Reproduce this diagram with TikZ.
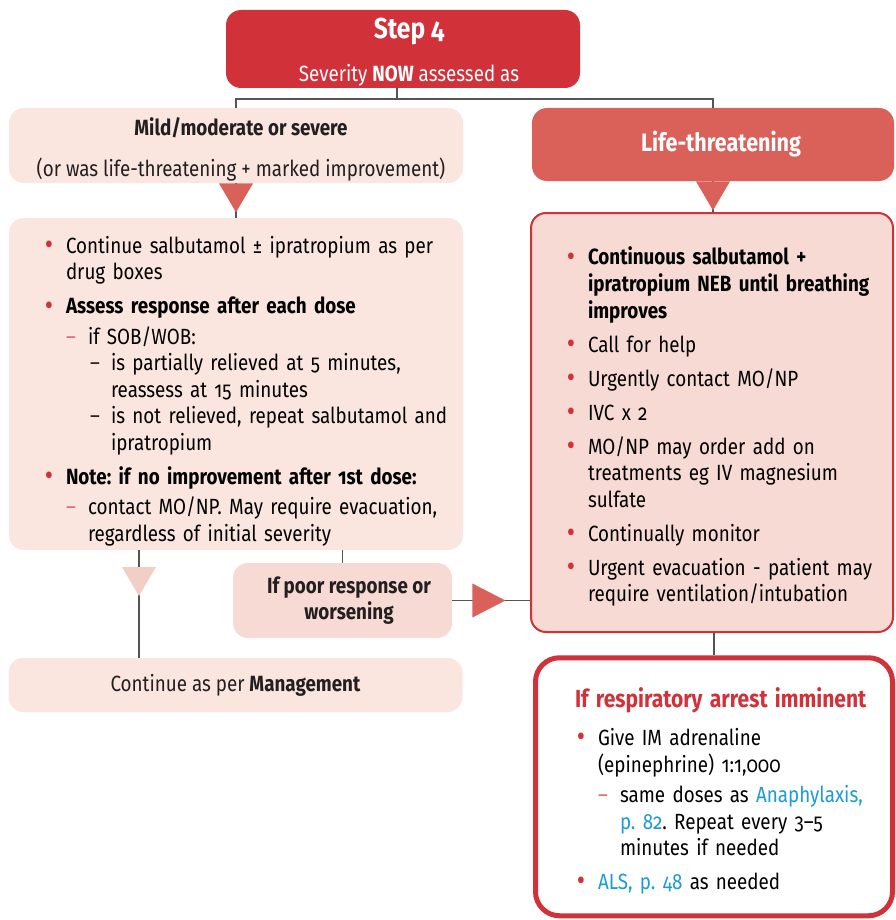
\documentclass[tikz,border=0pt]{standalone}
\usepackage{fontspec}
\setmainfont{Fira Sans}[Numbers=OldStyle, FakeStretch=0.855]
\usepackage{enumitem}

\definecolor{stepred}{HTML}{D1323A}
\definecolor{lifered}{HTML}{D9615A}
\definecolor{palepink}{HTML}{FAE5DF}
\definecolor{rosepink}{HTML}{F6DAD3}
\definecolor{tripink}{HTML}{F2CFC5}
\definecolor{ink}{HTML}{231F20}
\definecolor{dashpink}{HTML}{E56B72}
\definecolor{linkblue}{HTML}{1B9BD7}
\definecolor{linegrey}{HTML}{555555}

% lower a line of text without changing the size of its box
\newcommand{\nudge}[2]{\raisebox{-#1}[\height][\depth]{#2}}
\newcommand{\redbullet}{\textcolor{stepred}{\raisebox{-0.05em}{\scalebox{1.35}{\textbullet}}}}
\newlist{steplist}{itemize}{3}
\setlist[steplist]{nosep}
\setlist[steplist,1]{label=\redbullet, leftmargin=25.5pt, labelsep=6.5pt, itemsep=3.7pt}
\setlist[steplist,2]{label=\textcolor{dashpink}{--}, leftmargin=11pt, labelsep=6pt, topsep=1.8pt}
\setlist[steplist,3]{label=\textcolor{ink}{--}, leftmargin=11.5pt, labelsep=5.5pt}

\AtBeginDocument{\fontsize{11}{13.3}\selectfont\color{ink}\frenchspacing}

\tikzset{
  downtri/.pic={\path[pic actions] (-17,0) -- (17,0) -- (0,29) -- cycle;},
  righttri/.pic={\path[pic actions] (0,-17) -- (0,17) -- (33,0) -- cycle;}
}

\begin{document}
\begin{tikzpicture}[x=0.5pt, y=-0.5pt,
    box/.style={rounded corners=7.5pt, inner sep=0pt},
    connector/.style={draw=linegrey, line width=0.7pt}]
  \useasboundingbox (0,0) rectangle (895,920);

  % severity now
  \node[box, fill=stepred, text=white, align=center, minimum width=177pt, minimum height=39pt] (step) at (403,49)
    {\hspace*{6pt}\nudge{1.5pt}{\fontsize{14.4}{16}\selectfont\bfseries Step 4}\\[8pt]\hspace*{6pt}\nudge{1.5pt}{Severity \textbf{NOW} assessed as}};

  % left branch
  \node[box, fill=palepink, align=center, minimum width=227pt, minimum height=37.5pt] (mild) at (236,145.5)
    {\hspace*{5pt}\nudge{2pt}{\textbf{Mild/moderate or severe}}\\[7.5pt]\hspace*{5pt}\nudge{2pt}{(or was life-threatening + marked improvement)}};
  \node[box, fill=palepink, align=left, text width=221pt, inner xsep=3pt, minimum width=227pt, minimum height=166pt] (assess) at (236,384)
    {\begin{steplist}
       \item Continue salbutamol ± ipratropium as per\newline drug boxes
       \item \textbf{Assess response after each dose}
         \begin{steplist}
           \item if SOB/WOB:
             \begin{steplist}
               \item is partially relieved at 5 minutes,\newline reassess at 15 minutes
               \item is not relieved, repeat salbutamol and\newline ipratropium
             \end{steplist}
         \end{steplist}
       \item \textbf{Note: if no improvement after 1st dose:}
         \begin{steplist}
           \item contact MO/NP. May require evacuation,\newline regardless of initial severity
         \end{steplist}
     \end{steplist}};
  \node[box, fill=rosepink, align=center, minimum width=109.5pt, minimum height=37.5pt] (poor) at (342.5,600.5)
    {\hspace*{6.5pt}\textbf{If poor response or}\\\hspace*{6.5pt}\textbf{worsening}};
  \node[box, fill=palepink, minimum width=227pt, minimum height=27pt] (manage) at (235.5,685)
    {Continue as per \textbf{Management}};

  % right branch
  \node[box, fill=lifered, text=white, minimum width=181pt, minimum height=36.5pt] (life) at (713,144.5)
    {\hspace*{8pt}{\fontsize{12.6}{14}\selectfont\bfseries Life-threatening}};
  \node[box, fill=rosepink, draw=stepred, line width=1pt, align=left, text width=175pt, inner xsep=3pt, minimum width=181pt, minimum height=209.5pt] (treat) at (712,422.5)
    {\begin{steplist}
       \item \textbf{Continuous salbutamol +\newline ipratropium NEB until breathing\newline improves}
       \item Call for help
       \item Urgently contact MO/NP
       \item IVC x 2
       \item MO/NP may order add on\newline treatments eg IV magnesium\newline sulfate
       \item Continually monitor
       \item Urgent evacuation - patient may\newline require ventilation/intubation
     \end{steplist}};
  \node[box, rounded corners=12pt, fill=white, draw=stepred, line width=2.5pt, align=left, text width=167pt, inner xsep=5.75pt, minimum width=178.5pt, minimum height=129pt] (arrest) at (714,786.75)
    {\hspace*{14pt}\nudge{4.5pt}{\fontsize{12.3}{15}\selectfont\bfseries\color{stepred}If respiratory arrest imminent}\vspace{5pt}\par\vspace{5.2pt}
     \begin{steplist}
       \item Give IM adrenaline\newline (epinephrine) 1:1,000
         \begin{steplist}
           \item same doses as \textcolor{linkblue}{Anaphylaxis,\newline p.~82}. Repeat every 3--5\newline minutes if needed
         \end{steplist}
       \item \textcolor{linkblue}{ALS, p.~48} as needed
     \end{steplist}};

  % connectors
  \coordinate (split) at (397,99);
  \coordinate (tri) at (139,567);
  \draw[connector] (step.south -| split) -- (split);
  \draw[connector] (mild.north) |- (split) -| (life.north);
  \draw[connector] (mild.south) -- (assess.north);
  \draw[connector] (life.south) -- (life.south |- treat.north);
  \draw[connector] (assess.south -| tri) -- (manage.north -| tri);
  \draw[connector] (assess.south -| poor.north) -- (poor.north);
  \draw[connector] (poor.east) -- (poor.east -| treat.west);
  \draw[connector] (treat.south -| arrest.north) -- (arrest.north);

  \pic[fill=lifered] at (mild.south) {downtri};
  \pic[fill=lifered] at (life.south) {downtri};
  \pic[fill=tripink] at (tri) {downtri};
  \pic[fill=lifered] at ([xshift=10pt]poor.east) {righttri};
\end{tikzpicture}
\end{document}
